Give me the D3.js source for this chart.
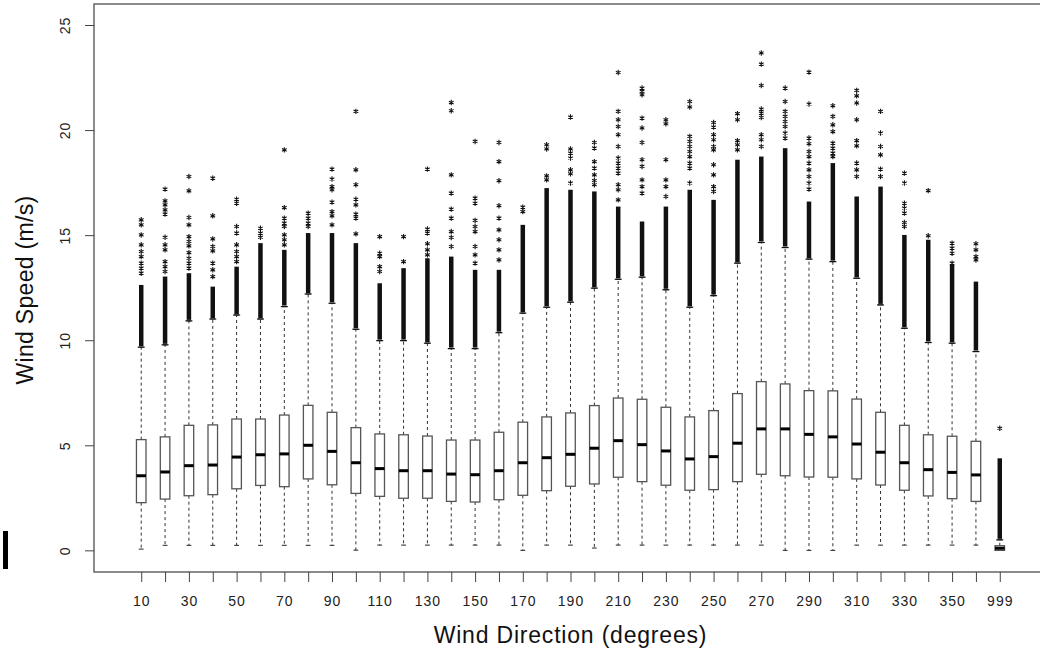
<!DOCTYPE html>
<html>
<head>
<meta charset="utf-8">
<script src="https://cdn.jsdelivr.net/npm/d3@7"></script>
<style>
	body { margin: 0; background: #fff; }
	svg { display: block; font-family: "Liberation Sans", Arial, sans-serif; }
</style>
</head>
<body>
<svg class="chart" width="1040" height="649"></svg>
<script>

// wind direction bins (999 = calm / undefined)
var directions = ["10","20","30","40","50","60","70","80","90","100","110","120","130","140","150","160","170","180",
	"190","200","210","220","230","240","250","260","270","280","290","300","310","320","330","340","350","360","999"];

var lowerWhisker = [0.06,0.24,0.24,0.24,0.24,0.24,0.24,0.24,0.24,0.01,0.25,0.25,0.25,0.25,0.25,0.25,0.0,0.25,
	0.25,0.11,0.25,0.25,0.25,0.25,0.25,0.25,0.25,0.0,0.0,0.0,0.25,0.25,0.25,0.25,0.25,0.25,0.0];
var q1 = [2.27,2.44,2.6,2.65,2.93,3.09,3.03,3.4,3.12,2.71,2.57,2.48,2.48,2.33,2.3,2.41,2.62,2.84,
	3.05,3.16,3.48,3.27,3.1,2.86,2.89,3.27,3.62,3.55,3.49,3.48,3.4,3.11,2.86,2.59,2.46,2.33,0.0];
var median = [3.55,3.73,4.03,4.06,4.44,4.55,4.59,5.0,4.71,4.17,3.89,3.79,3.79,3.63,3.6,3.79,4.17,4.41,
	4.57,4.86,5.22,5.03,4.73,4.35,4.46,5.1,5.78,5.78,5.52,5.4,5.06,4.67,4.17,3.84,3.71,3.59,0.1];
var q3 = [5.27,5.4,5.95,5.97,6.25,6.25,6.44,6.9,6.57,5.84,5.54,5.5,5.44,5.25,5.25,5.62,6.1,6.35,
	6.54,6.89,7.25,7.19,6.81,6.35,6.65,7.46,8.03,7.92,7.6,7.59,7.2,6.57,5.95,5.5,5.43,5.19,0.22];
var upperWhisker = [9.67,9.78,10.92,11.01,11.2,11.01,11.6,12.2,11.76,10.52,9.98,9.98,9.86,9.6,9.6,10.36,11.29,11.57,
	11.81,12.48,12.9,13.0,12.4,11.57,12.12,13.67,14.65,14.41,13.86,13.74,12.95,11.68,10.57,9.89,9.86,9.46,0.5];

// outliers: a packed run from the whisker up to denseTop, then single points
var denseTop = [12.63,13.03,13.19,12.55,13.5,14.62,14.3,15.1,15.1,14.62,12.71,13.43,13.9,13.98,13.35,13.35,15.49,17.24,
	17.16,17.08,16.36,15.65,16.36,17.16,16.68,18.59,18.74,19.14,16.6,18.43,16.84,17.31,15.01,14.78,13.59,12.79,4.38];
var sparseOutliers = [
	[15.73,15.49,15.01,14.54,14.22,13.98,13.67,13.43,13.19],
	[17.19,16.63,16.44,16.2,16.0,14.9,14.54,14.3,13.74,13.5,13.27],
	[17.79,17.11,15.84,15.49,14.93,14.7,14.49,14.17,13.9,13.67,13.43],
	[17.71,15.92,14.82,14.46,14.25,13.67,13.35,13.03],
	[16.71,16.52,15.41,15.1,14.54,14.22,13.98,13.74],
	[15.33,15.1,14.9],
	[19.06,16.31,15.81,15.57,15.41,15.01,14.78,14.54],
	[16.05,15.81,15.57,15.41],
	[18.14,17.67,17.31,17.16,16.57,16.12,15.92,15.49],
	[20.89,18.11,17.4,16.71,16.44,16.0,15.81,15.06],
	[14.93,14.14,13.98,13.5,13.27],
	[14.93,13.74],
	[18.14,15.29,15.1,14.59,14.3,14.06],
	[21.31,20.92,17.87,17.0,16.24,15.81,15.17,14.89,14.46],
	[19.46,16.76,16.52,15.7,15.41,15.17,14.46,14.06,13.67],
	[19.41,18.5,17.59,16.4,15.81,15.25,14.78,14.3,13.82],
	[16.33,16.12],
	[19.3,19.1,17.82,17.63],
	[20.62,19.1,18.9,18.67,18.11,17.92,17.48],
	[19.41,19.14,18.5,18.19,17.87,17.6,17.4],
	[22.74,20.89,20.49,20.17,19.78,19.22,18.67,18.43,18.19,17.95,17.4,17.16,16.68],
	[22.0,21.84,21.68,20.57,20.1,19.41,18.59,18.27,17.63,17.31,17.0],
	[20.49,20.3,18.59,17.63,17.31,16.84],
	[21.36,21.1,19.7,19.46,19.22,18.98,18.74,18.43,18.19,17.48],
	[20.36,20.14,19.78,19.54,19.22,19.06,18.35,17.87,17.31,17.08],
	[20.78,20.49,19.5,19.3,19.06],
	[23.67,23.14,22.12,21.0,20.81,20.6,19.78,19.54,19.22],
	[22.0,21.36,20.89,20.65,20.41,20.17,19.86,19.62],
	[22.76,21.24,19.62,19.35,18.98,18.74,18.43,18.11,17.79,17.48,17.19],
	[21.16,20.65,20.25,19.93,19.38,19.14,18.9,18.74],
	[21.89,21.63,21.29,20.49,19.5,19.25,18.43,18.11,17.79],
	[20.89,19.86,19.22,18.82,18.14,17.79],
	[17.95,17.48,16.52,16.29,16.05,15.6,15.41],
	[17.12,14.97],
	[14.62,14.38,14.14,13.67],
	[14.59,14.3,13.98,13.82],
	[5.81]
];

var yTicks = [0, 5, 10, 15, 20, 25];

var svg = d3.select(".chart");
var plotLeft = 94, plotRight = 1047, plotTop = 4, plotBottom = 572;

var x = d3.scaleLinear().domain([-0.98, 38.98]).range([plotLeft, plotRight]);
var y = d3.scaleLinear().domain([-1.03, 26.0]).range([plotBottom, plotTop]);

var boxes = directions.map(function(d, i){
	return {dir: d, pos: i + 1, lw: lowerWhisker[i], q1: q1[i], med: median[i], q3: q3[i],
		uw: upperWhisker[i], dense: denseTop[i], out: sparseOutliers[i]};
});
var boxW = x(1.4) - x(1);
var stapleW = boxW / 2;

var g = svg.selectAll("g.box")
	.data(boxes)
	.enter()
	.append("g")
	.attr("class", "box");

// whiskers
g.append("line")
	.attr("x1", d => x(d.pos)).attr("x2", d => x(d.pos))
	.attr("y1", d => y(d.q3)).attr("y2", d => y(d.uw))
	.style("stroke", "#333").style("stroke-dasharray", "3,3");
g.append("line")
	.attr("x1", d => x(d.pos)).attr("x2", d => x(d.pos))
	.attr("y1", d => y(d.q1)).attr("y2", d => y(d.lw))
	.style("stroke", "#333").style("stroke-dasharray", "3,3");
g.append("line")
	.attr("x1", d => x(d.pos) - stapleW/2).attr("x2", d => x(d.pos) + stapleW/2)
	.attr("y1", d => y(d.uw)).attr("y2", d => y(d.uw))
	.style("stroke", "#222");
g.append("line")
	.attr("x1", d => x(d.pos) - stapleW/2).attr("x2", d => x(d.pos) + stapleW/2)
	.attr("y1", d => y(d.lw)).attr("y2", d => y(d.lw))
	.style("stroke", "#222");

// box + median
g.append("rect")
	.attr("x", d => x(d.pos) - boxW/2)
	.attr("width", boxW)
	.attr("y", d => y(d.q3))
	.attr("height", d => y(d.q1) - y(d.q3))
	.style("fill", "white")
	.style("stroke", "#555")
	.style("stroke-width", 1.3);
g.append("line")
	.attr("x1", d => x(d.pos) - boxW/2).attr("x2", d => x(d.pos) + boxW/2)
	.attr("y1", d => y(d.med)).attr("y2", d => y(d.med))
	.style("stroke", "black").style("stroke-width", 3);

// packed outliers (stacked stars merge into a solid column)
g.append("line")
	.attr("x1", d => x(d.pos)).attr("x2", d => x(d.pos))
	.attr("y1", d => y(d.uw) - 1).attr("y2", d => y(d.dense))
	.style("stroke", "#111").style("stroke-width", 4.5);
g.append("line")
	.attr("x1", d => x(d.pos) - 3.5).attr("x2", d => x(d.pos) + 3.5)
	.attr("y1", d => y(d.uw)).attr("y2", d => y(d.uw))
	.style("stroke", "#111").style("stroke-width", 1.2);

// single outliers
var star = d3.symbol().type(d3.symbolAsterisk).size(20);
g.each(function(d){
	d3.select(this).selectAll("path.out")
		.data(d.out)
		.enter()
		.append("path")
		.attr("class", "out")
		.attr("d", star)
		.attr("transform", v => "translate(" + x(d.pos) + "," + y(v) + ")")
		.style("fill", "none")
		.style("stroke", "#111")
		.style("stroke-width", 1.1);
});

// frame
svg.append("path")
	.attr("d", "M" + plotRight + "," + plotTop + "H" + plotLeft + "V" + plotBottom + "H" + plotRight)
	.style("fill", "none")
	.style("stroke", "#666")
	.style("stroke-width", 1.5);

// x axis
var xAxis = d3.axisBottom(x)
	.tickValues(boxes.map(d => d.pos))
	.tickSize(10)
	.tickPadding(14)
	.tickFormat(function(v){ return (v - 1) % 2 == 0 ? directions[v - 1] : ""; });
var xg = svg.append("g")
	.attr("transform", "translate(0," + plotBottom + ")")
	.call(xAxis);
xg.select(".domain").remove();
xg.selectAll("line").style("stroke", "#444");
xg.selectAll("text").style("font-size", "14px").style("fill", "#222")
	.style("letter-spacing", "1px")
	.style("font-family", "Liberation Sans, Arial, sans-serif");

// y axis
var yAxis = d3.axisLeft(y).tickValues(yTicks).tickSize(9).tickPadding(0).tickFormat(d3.format("d"));
var yg = svg.append("g")
	.attr("transform", "translate(" + plotLeft + ",0)")
	.call(yAxis);
yg.select(".domain").remove();
yg.selectAll("line").style("stroke", "#444");
yg.selectAll("text")
	.attr("x", null).attr("dy", null)
	.attr("transform", "translate(-29,0) rotate(-90)")
	.attr("text-anchor", "middle")
	.attr("dy", "0.35em")
	.style("font-size", "14px").style("fill", "#222")
	.style("letter-spacing", "1px")
	.style("font-family", "Liberation Sans, Arial, sans-serif");

// titles
svg.append("text")
	.text("Wind Direction (degrees)")
	.attr("x", (plotLeft + plotRight) / 2)
	.attr("y", 643)
	.attr("text-anchor", "middle")
	.style("font-size", "23px")
	.style("letter-spacing", "0.8px")
	.style("fill", "#111");
svg.append("text")
	.text("Wind Speed (m/s)")
	.attr("transform", "translate(33,290) rotate(-90)")
	.attr("text-anchor", "middle")
	.style("font-size", "23px")
	.style("letter-spacing", "0.3px")
	.style("fill", "#111");

// stray mark at the left edge of the scan
svg.append("rect")
	.attr("x", 3).attr("y", 531).attr("width", 5).attr("height", 38)
	.style("fill", "black");

</script>
</body>
</html>
